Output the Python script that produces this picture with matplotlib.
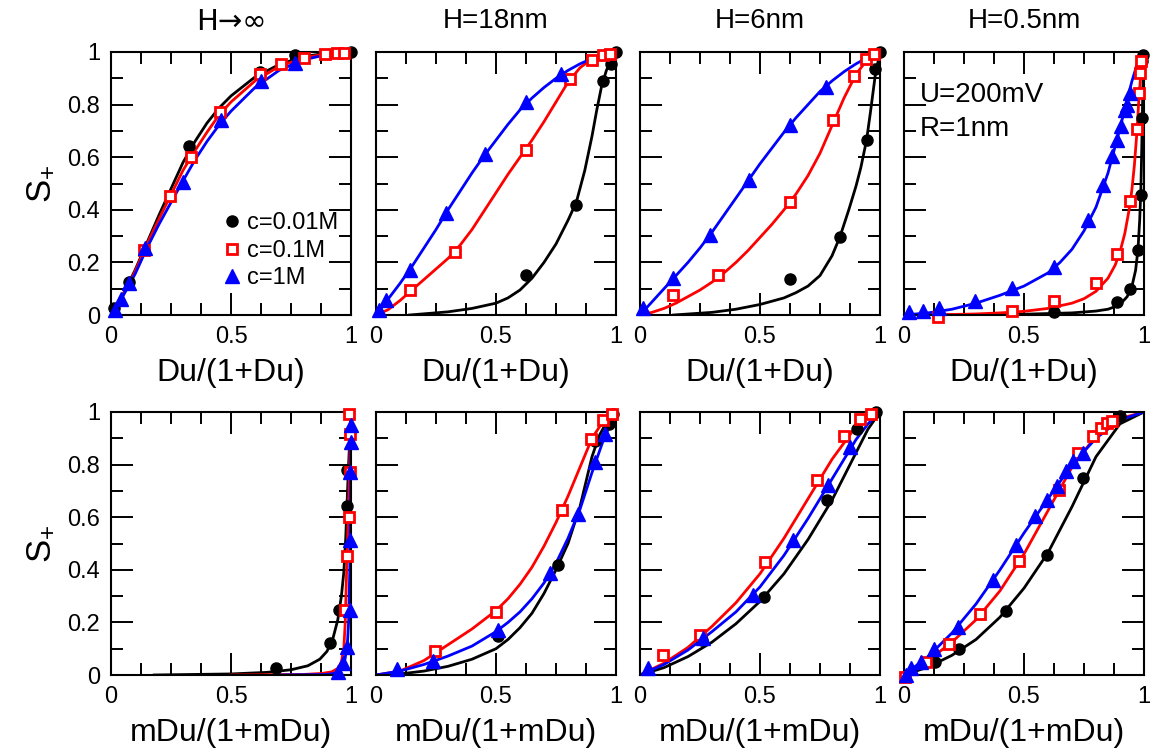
import matplotlib
matplotlib.use("Agg")
import matplotlib.pyplot as plt
from matplotlib.ticker import MultipleLocator, FixedLocator, FixedFormatter

plt.rcParams['font.family'] = ['Liberation Sans', 'DejaVu Sans']
plt.rcParams['mathtext.fontset'] = 'custom'
plt.rcParams['mathtext.rm'] = 'Liberation Sans'
plt.rcParams['mathtext.it'] = 'Liberation Sans'

TITLES = ["H\u2192\u221e", "H=18nm", "H=6nm", "H=0.5nm"]
LABELS = ["c=0.01M", "c=0.1M", "c=1M"]
XLAB_TOP = "Du/(1+Du)"
XLAB_BOT = "mDu/(1+mDu)"
XTICKS = [0, 0.5, 1]
XTICKLABELS = ["0", "0.5", "1"]
YTICKS = [0, 0.2, 0.4, 0.6, 0.8, 1]
YTICKLABELS = ["0", "0.2", "0.4", "0.6", "0.8", "1"]

# ---------------- top row (vs Du/(1+Du)) ----------------
# H -> inf
t1_blk_x = [0.014, 0.076, 0.326, 0.622, 0.768, 1.0]
t1_blk_y = [0.025, 0.127, 0.642, 0.924, 0.987, 1.0]
t1_red_x = [0.139, 0.247, 0.333, 0.454, 0.622, 0.708, 0.806, 0.893, 0.940, 0.969]
t1_red_y = [0.249, 0.452, 0.601, 0.770, 0.918, 0.953, 0.978, 0.991, 0.996, 0.997]
t1_blu_x = [0.018, 0.042, 0.076, 0.143, 0.299, 0.458, 0.625, 0.768]
t1_blu_y = [0.019, 0.059, 0.120, 0.253, 0.506, 0.740, 0.890, 0.958]
t1_fit_x = [0, 0.05, 0.1, 0.15, 0.2, 0.25, 0.3, 0.35, 0.4, 0.45, 0.5, 0.6, 0.7, 0.8, 0.9, 1]
t1_blk_fy = [0, 0.078, 0.17, 0.275, 0.38, 0.48, 0.58, 0.66, 0.73, 0.787, 0.833, 0.905, 0.952, 0.982, 0.996, 1]
t1_red_fy = [0, 0.075, 0.165, 0.27, 0.365, 0.457, 0.55, 0.625, 0.695, 0.76, 0.81, 0.89, 0.945, 0.977, 0.994, 1]
t1_blu_fy = [0, 0.072, 0.155, 0.255, 0.345, 0.428, 0.51, 0.59, 0.66, 0.722, 0.775, 0.865, 0.93, 0.97, 0.99, 1]

# H = 18 nm
t2_blk_x = [0.625, 0.835, 0.944, 0.979, 1.0]
t2_blk_y = [0.152, 0.418, 0.890, 0.956, 1.0]
t2_red_x = [0.14, 0.329, 0.625, 0.807, 0.898, 0.944, 0.976]
t2_red_y = [0.095, 0.240, 0.627, 0.899, 0.971, 0.987, 0.994]
t2_blu_x = [0.014, 0.042, 0.14, 0.291, 0.455, 0.625, 0.769]
t2_blu_y = [0.02, 0.057, 0.173, 0.389, 0.614, 0.808, 0.918]
t2_blk_fx = [0.14, 0.3, 0.4, 0.5, 0.55, 0.6, 0.65, 0.7, 0.75, 0.8, 0.835, 0.87, 0.9, 0.92, 0.94, 0.96, 0.98, 1.0]
t2_blk_fy = [0, 0.012, 0.025, 0.045, 0.065, 0.095, 0.14, 0.2, 0.27, 0.36, 0.43, 0.55, 0.68, 0.78, 0.87, 0.93, 0.97, 1.0]
t2_fit_x = [0, 0.05, 0.1, 0.15, 0.2, 0.25, 0.3, 0.35, 0.4, 0.45, 0.5, 0.55, 0.6, 0.65, 0.7, 0.75, 0.8, 0.85, 0.9, 0.95, 1]
t2_red_fy = [0, 0.02, 0.055, 0.095, 0.135, 0.175, 0.215, 0.265, 0.325, 0.395, 0.465, 0.535, 0.6, 0.665, 0.735, 0.81, 0.885, 0.94, 0.975, 0.99, 1]
t2_blu_fy = [0, 0.06, 0.12, 0.185, 0.255, 0.325, 0.4, 0.47, 0.54, 0.605, 0.665, 0.725, 0.78, 0.825, 0.865, 0.9, 0.93, 0.955, 0.975, 0.99, 1]

# H = 6 nm
t3_blk_x = [0.627, 0.833, 0.944, 0.979, 1.0]
t3_blk_y = [0.135, 0.297, 0.665, 0.937, 1.0]
t3_red_x = [0.139, 0.327, 0.627, 0.805, 0.891, 0.940, 0.975]
t3_red_y = [0.076, 0.152, 0.430, 0.741, 0.908, 0.975, 0.991]
t3_blu_x = [0.014, 0.139, 0.292, 0.453, 0.627, 0.773]
t3_blu_y = [0.025, 0.139, 0.304, 0.513, 0.722, 0.867]
t3_blk_fx = [0.14, 0.3, 0.4, 0.5, 0.6, 0.65, 0.7, 0.75, 0.8, 0.833, 0.87, 0.9, 0.92, 0.944, 0.96, 0.98, 1.0]
t3_blk_fy = [0, 0.01, 0.022, 0.04, 0.065, 0.085, 0.11, 0.15, 0.225, 0.297, 0.40, 0.49, 0.56, 0.665, 0.77, 0.91, 1.0]
t3_fit_x = [0, 0.05, 0.1, 0.15, 0.2, 0.25, 0.3, 0.35, 0.4, 0.45, 0.5, 0.55, 0.6, 0.65, 0.7, 0.75, 0.8, 0.85, 0.9, 0.95, 1]
t3_red_fy = [0, 0.01, 0.025, 0.045, 0.07, 0.095, 0.125, 0.16, 0.2, 0.245, 0.295, 0.345, 0.4, 0.46, 0.53, 0.615, 0.72, 0.825, 0.915, 0.975, 1]
t3_blu_fy = [0, 0.05, 0.1, 0.15, 0.2, 0.255, 0.315, 0.38, 0.445, 0.51, 0.575, 0.635, 0.695, 0.75, 0.8, 0.85, 0.89, 0.925, 0.955, 0.98, 1]

# H = 0.5 nm
t4_blk_x = [0.627, 0.889, 0.94, 0.975, 0.986, 0.992, 0.992, 0.996]
t4_blk_y = [0.013, 0.05, 0.10, 0.248, 0.457, 0.75, 0.966, 0.99]
t4_red_x = [0.142, 0.452, 0.627, 0.802, 0.889, 0.941, 0.972, 0.978, 0.982, 0.986]
t4_red_y = [-0.006, 0.017, 0.055, 0.12, 0.231, 0.432, 0.708, 0.845, 0.921, 0.966]
t4_blu_x = [0.021, 0.079, 0.145, 0.295, 0.45, 0.627, 0.768, 0.83, 0.867, 0.889, 0.906, 0.92, 0.929, 0.94]
t4_blu_y = [0.013, 0.015, 0.025, 0.055, 0.102, 0.184, 0.362, 0.496, 0.604, 0.667, 0.718, 0.781, 0.80, 0.845]
t4_blk_fx = [0.15, 0.5, 0.7, 0.8, 0.85, 0.88, 0.91, 0.93, 0.95, 0.965, 0.975, 0.982, 0.987, 0.991, 0.995, 1.0]
t4_blk_fy = [0, 0.003, 0.008, 0.015, 0.022, 0.032, 0.05, 0.07, 0.11, 0.17, 0.25, 0.36, 0.48, 0.65, 0.85, 1.0]
t4_red_fx = [0, 0.2, 0.3, 0.4, 0.5, 0.6, 0.7, 0.75, 0.8, 0.85, 0.88, 0.9, 0.92, 0.94, 0.95, 0.96, 0.97, 0.98, 0.99, 1.0]
t4_red_fy = [0, 0.002, 0.004, 0.008, 0.014, 0.025, 0.045, 0.062, 0.09, 0.14, 0.19, 0.24, 0.31, 0.41, 0.48, 0.57, 0.69, 0.84, 0.95, 1.0]
t4_blu_fx = [0, 0.1, 0.2, 0.3, 0.4, 0.5, 0.6, 0.65, 0.7, 0.75, 0.8, 0.85, 0.9, 0.93, 0.95, 0.97, 0.985, 1.0]
t4_blu_fy = [0, 0.008, 0.022, 0.045, 0.075, 0.11, 0.16, 0.2, 0.25, 0.32, 0.41, 0.54, 0.71, 0.82, 0.89, 0.95, 0.98, 1.0]

# ---------------- bottom row (vs mDu/(1+mDu)) ----------------
# H -> inf
b1_blk_x = [0.688, 0.914, 0.949, 0.982, 0.982]
b1_blk_y = [0.025, 0.123, 0.247, 0.642, 0.778]
b1_red_x = [0.976, 0.982, 0.99, 0.996, 0.996, 0.99]
b1_red_y = [0.247, 0.452, 0.601, 0.772, 0.918, 0.994]
b1_blu_x = [0.944, 0.965, 0.982, 0.996, 0.996, 0.996, 1.0, 1.0]
b1_blu_y = [0.013, 0.044, 0.108, 0.247, 0.513, 0.772, 0.886, 0.95]
b1_blk_fx = [0.18, 0.5, 0.65, 0.75, 0.82, 0.87, 0.9, 0.925, 0.945, 0.96, 0.97, 0.978, 0.983, 0.99, 0.995, 1.0]
b1_blk_fy = [0, 0.004, 0.01, 0.02, 0.035, 0.06, 0.09, 0.14, 0.21, 0.3, 0.39, 0.52, 0.64, 0.8, 0.9, 1.0]
b1_red_fx = [0.5, 0.8, 0.88, 0.92, 0.945, 0.96, 0.97, 0.976, 0.982, 0.988, 0.993, 0.997, 1.0]
b1_red_fy = [0, 0.002, 0.006, 0.012, 0.025, 0.05, 0.1, 0.2, 0.4, 0.58, 0.75, 0.9, 1.0]
b1_blu_fx = [0.69, 0.9, 0.94, 0.96, 0.975, 0.985, 0.99, 0.995, 0.998, 1.0]
b1_blu_fy = [0, 0.002, 0.008, 0.025, 0.06, 0.12, 0.2, 0.4, 0.7, 1.0]

# H = 18 nm
b2_blk_x = [0.51, 0.759, 0.913, 0.972, 0.986]
b2_blk_y = [0.148, 0.418, 0.89, 0.956, 0.994]
b2_red_x = [0.245, 0.501, 0.773, 0.895, 0.944, 0.982]
b2_red_y = [0.092, 0.24, 0.627, 0.899, 0.968, 0.991]
b2_blu_x = [0.088, 0.238, 0.51, 0.727, 0.843, 0.913, 0.955]
b2_blu_y = [0.022, 0.054, 0.173, 0.389, 0.614, 0.808, 0.918]
b2_blk_fx = [0, 0.1, 0.2, 0.3, 0.4, 0.5, 0.55, 0.6, 0.65, 0.7, 0.75, 0.8, 0.85, 0.9, 0.93, 0.96, 1.0]
b2_blk_fy = [0, 0.004, 0.015, 0.033, 0.06, 0.1, 0.135, 0.18, 0.235, 0.31, 0.4, 0.5, 0.64, 0.83, 0.91, 0.96, 1.0]
b2_fit_x = [0, 0.1, 0.2, 0.3, 0.4, 0.5, 0.55, 0.6, 0.65, 0.7, 0.75, 0.8, 0.85, 0.9, 0.95, 1.0]
b2_red_fy = [0, 0.015, 0.055, 0.115, 0.175, 0.245, 0.29, 0.345, 0.41, 0.49, 0.58, 0.68, 0.79, 0.9, 0.97, 1.0]
b2_blu_fy = [0, 0.015, 0.04, 0.072, 0.11, 0.165, 0.2, 0.24, 0.29, 0.35, 0.425, 0.52, 0.63, 0.77, 0.9, 1.0]

# H = 6 nm
b3_blk_x = [0.258, 0.515, 0.78, 0.903, 0.982]
b3_blk_y = [0.133, 0.297, 0.665, 0.937, 1.0]
b3_red_x = [0.097, 0.251, 0.522, 0.738, 0.85, 0.916, 0.961]
b3_red_y = [0.076, 0.152, 0.43, 0.741, 0.908, 0.975, 0.991]
b3_blu_x = [0.035, 0.262, 0.471, 0.638, 0.783, 0.877]
b3_blu_y = [0.025, 0.139, 0.304, 0.513, 0.722, 0.867]
b3_blk_fx = [0, 0.1, 0.2, 0.3, 0.4, 0.5, 0.6, 0.7, 0.8, 0.85, 0.9, 0.95, 1.0]
b3_blk_fy = [0, 0.028, 0.07, 0.125, 0.195, 0.28, 0.385, 0.515, 0.665, 0.755, 0.845, 0.935, 1.0]
b3_fit_x = [0, 0.1, 0.2, 0.3, 0.4, 0.5, 0.6, 0.7, 0.8, 0.9, 0.95, 1.0]
b3_red_fy = [0, 0.045, 0.105, 0.185, 0.275, 0.385, 0.52, 0.67, 0.82, 0.945, 0.985, 1.0]
b3_blu_fy = [0, 0.04, 0.095, 0.165, 0.24, 0.335, 0.455, 0.595, 0.745, 0.895, 0.955, 1.0]

# H = 0.5 nm
b4_blk_x = [0.129, 0.228, 0.426, 0.595, 0.747, 0.899]
b4_blk_y = [0.048, 0.099, 0.244, 0.455, 0.75, 0.985]
b4_red_x = [0.004, 0.09, 0.187, 0.318, 0.48, 0.647, 0.726, 0.786, 0.82, 0.844, 0.867]
b4_red_y = [-0.006, 0.05, 0.117, 0.231, 0.432, 0.705, 0.845, 0.909, 0.94, 0.957, 0.966]
b4_blu_x = [0.007, 0.028, 0.069, 0.124, 0.225, 0.371, 0.466, 0.544, 0.595, 0.639, 0.674, 0.705, 0.747]
b4_blu_y = [0.0, 0.025, 0.05, 0.10, 0.184, 0.362, 0.496, 0.604, 0.667, 0.718, 0.775, 0.813, 0.845]
b4_fit_x = [0, 0.1, 0.2, 0.3, 0.4, 0.5, 0.6, 0.7, 0.8, 0.9, 1.0]
b4_blk_fy = [0, 0.03, 0.075, 0.135, 0.22, 0.33, 0.465, 0.64, 0.83, 0.955, 1.0]
b4_red_fy = [0, 0.055, 0.125, 0.21, 0.32, 0.46, 0.625, 0.79, 0.91, 0.975, 1.0]
b4_blu_fy = [0, 0.07, 0.16, 0.27, 0.4, 0.54, 0.67, 0.8, 0.9, 0.97, 1.0]

# table: per panel -> (black, red, blue) each = (pts_x, pts_y, fit_x, fit_y)
TOP = [
    [(t1_blk_x, t1_blk_y, t1_fit_x, t1_blk_fy), (t1_red_x, t1_red_y, t1_fit_x, t1_red_fy), (t1_blu_x, t1_blu_y, t1_fit_x, t1_blu_fy)],
    [(t2_blk_x, t2_blk_y, t2_blk_fx, t2_blk_fy), (t2_red_x, t2_red_y, t2_fit_x, t2_red_fy), (t2_blu_x, t2_blu_y, t2_fit_x, t2_blu_fy)],
    [(t3_blk_x, t3_blk_y, t3_blk_fx, t3_blk_fy), (t3_red_x, t3_red_y, t3_fit_x, t3_red_fy), (t3_blu_x, t3_blu_y, t3_fit_x, t3_blu_fy)],
    [(t4_blk_x, t4_blk_y, t4_blk_fx, t4_blk_fy), (t4_red_x, t4_red_y, t4_red_fx, t4_red_fy), (t4_blu_x, t4_blu_y, t4_blu_fx, t4_blu_fy)],
]
BOT = [
    [(b1_blk_x, b1_blk_y, b1_blk_fx, b1_blk_fy), (b1_red_x, b1_red_y, b1_red_fx, b1_red_fy), (b1_blu_x, b1_blu_y, b1_blu_fx, b1_blu_fy)],
    [(b2_blk_x, b2_blk_y, b2_blk_fx, b2_blk_fy), (b2_red_x, b2_red_y, b2_fit_x, b2_red_fy), (b2_blu_x, b2_blu_y, b2_fit_x, b2_blu_fy)],
    [(b3_blk_x, b3_blk_y, b3_blk_fx, b3_blk_fy), (b3_red_x, b3_red_y, b3_fit_x, b3_red_fy), (b3_blu_x, b3_blu_y, b3_fit_x, b3_blu_fy)],
    [(b4_blk_x, b4_blk_y, b4_fit_x, b4_blk_fy), (b4_red_x, b4_red_y, b4_fit_x, b4_red_fy), (b4_blu_x, b4_blu_y, b4_fit_x, b4_blu_fy)],
]

STY = [dict(color="black", marker="o", ms=8, mfc="black", mec="black", mew=1),
       dict(color="red", marker="s", ms=6.5, mfc="white", mec="red", mew=2),
       dict(color="blue", marker="^", ms=9.5, mfc="blue", mec="blue", mew=1)]

W, H = 1156, 756
fig = plt.figure(figsize=(W / 100, H / 100), dpi=100)
COL_L = [111, 376, 640, 904]
AX_W = 240
ROWS = [(52, 315), (412, 675)]


def style(ax, first_col):
    ax.set_xlim(0, 1); ax.set_ylim(0, 1)
    for s in ax.spines.values():
        s.set_linewidth(1.5)
    ax.xaxis.set_major_locator(FixedLocator(XTICKS))
    ax.xaxis.set_major_formatter(FixedFormatter(XTICKLABELS))
    ax.xaxis.set_minor_locator(MultipleLocator(0.125))
    ax.yaxis.set_major_locator(FixedLocator(YTICKS))
    ax.yaxis.set_minor_locator(MultipleLocator(0.1))
    if first_col:
        ax.yaxis.set_major_formatter(FixedFormatter(YTICKLABELS))
    else:
        ax.set_yticklabels([])
    ax.tick_params(which="both", direction="in", top=True, right=True, width=1.4, labelsize=17)
    ax.tick_params(which="major", length=16)
    ax.tick_params(which="minor", length=8.5)
    ax.tick_params(axis="x", pad=8)
    ax.tick_params(axis="y", pad=8)


for r, (rows, xlab) in enumerate([(TOP, XLAB_TOP), (BOT, XLAB_BOT)]):
    t, b = ROWS[r]
    for c in range(4):
        ax = fig.add_axes([COL_L[c] / W, 1 - b / H, AX_W / W, (b - t) / H])
        style(ax, c == 0)
        for k, (px, py, fx, fy) in enumerate(rows[c]):
            st = STY[k]
            ax.plot(fx, fy, color=st["color"], lw=2, zorder=2 + k * 0.1)
            ax.plot(px, py, ls="none", marker=st["marker"], ms=st["ms"], mfc=st["mfc"],
                    mec=st["mec"], mew=st["mew"], clip_on=False, zorder=3 + k * 0.1,
                    label=LABELS[k])
        ax.set_xlabel(xlab, fontsize=23, labelpad=7)
        if c == 0:
            ax.set_ylabel(r"S$_{+}$", fontsize=25, labelpad=8)
        if r == 0:
            if c == 0:
                ax.set_title(TITLES[c], fontsize=21, pad=16, family=["DejaVu Sans"])
            else:
                ax.set_title(TITLES[c], fontsize=20, pad=17)
        if r == 0 and c == 0:
            ax.legend(loc="upper left", bbox_to_anchor=(0.465, 0.39), frameon=False,
                      fontsize=17, handlelength=0.8, handletextpad=0.25,
                      labelspacing=0.23, borderpad=0, borderaxespad=0)
        if r == 0 and c == 3:
            ax.text(0.067, 0.837, "U=200mV", transform=ax.transAxes, fontsize=20,
                    ha="left", va="center")
            ax.text(0.067, 0.707, "R=1nm", transform=ax.transAxes, fontsize=20,
                    ha="left", va="center")

fig.savefig("out.png", dpi=100)
